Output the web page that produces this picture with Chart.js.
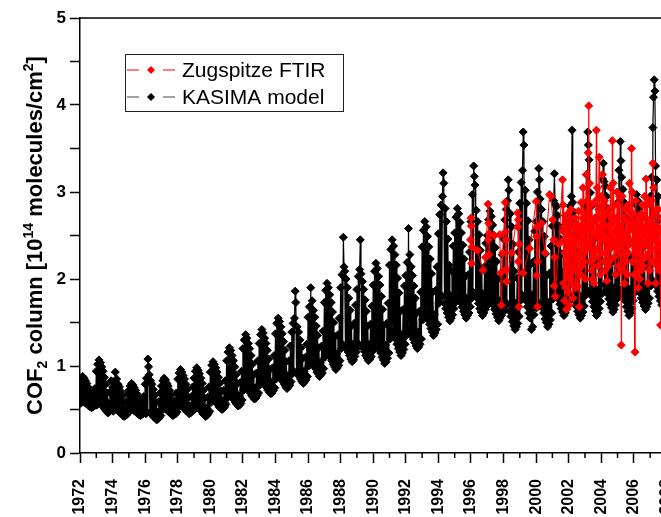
<!DOCTYPE html>
<html>
<head>
<meta charset="utf-8">
<script src="https://cdn.jsdelivr.net/npm/chart.js@4.4.1/dist/chart.umd.min.js"></script>
<style>
  html, body { margin: 0; padding: 0; overflow: hidden; background: #fff; }
  #wrap { width: 720px; height: 517px; }
</style>
</head>
<body>
<div id="wrap"><canvas id="cof2" width="720" height="517"></canvas></div>
<script>
// KASIMA model: 24 samples per year starting Jan 1972
const kasimaStart = 1972;
const kasimaPerYear = 24;
const kasimaValues = [
  0.80,0.57,0.85,0.59,0.88,0.59,0.86,0.58,0.83,0.57,0.80,0.56,0.76,0.54,0.71,0.53,0.66,0.52,0.59,0.53,0.66,0.54,0.74,0.56, // 1972
  0.94,0.55,1.02,0.57,1.07,0.58,1.04,0.56,0.99,0.55,0.94,0.52,0.87,0.50,0.79,0.48,0.69,0.46,0.57,0.47,0.70,0.49,0.83,0.52, // 1973
  0.76,0.48,0.82,0.50,0.93,0.51,0.85,0.49,0.79,0.48,0.76,0.46,0.71,0.45,0.65,0.43,0.58,0.42,0.50,0.43,0.59,0.44,0.68,0.46, // 1974
  0.72,0.48,0.77,0.50,0.80,0.50,0.78,0.49,0.75,0.48,0.72,0.47,0.68,0.45,0.63,0.44,0.57,0.43,0.50,0.44,0.58,0.45,0.65,0.47, // 1975
  0.79,0.45,0.86,0.47,1.08,0.99,0.90,0.46,0.83,0.45,0.79,0.43,0.73,0.41,0.66,0.40,0.58,0.38,0.47,0.39,0.59,0.41,0.69,0.43, // 1976
  0.77,0.49,0.83,0.51,0.86,0.52,0.84,0.50,0.80,0.49,0.77,0.47,0.72,0.46,0.66,0.44,0.59,0.43,0.51,0.44,0.60,0.45,0.69,0.47, // 1977
  0.85,0.52,0.92,0.54,0.96,0.55,0.93,0.53,0.89,0.52,0.85,0.50,0.79,0.48,0.73,0.47,0.64,0.45,0.54,0.46,0.65,0.48,0.76,0.50, // 1978
  0.86,0.50,0.94,0.52,0.98,0.53,0.95,0.51,0.91,0.50,0.86,0.48,0.80,0.45,0.72,0.44,0.63,0.42,0.52,0.43,0.64,0.45,0.76,0.48, // 1979
  0.93,0.58,1.01,0.60,1.05,0.61,1.02,0.59,0.98,0.58,0.93,0.56,0.87,0.53,0.80,0.52,0.71,0.50,0.60,0.51,0.72,0.53,0.83,0.56, // 1980
  1.06,0.63,1.16,0.66,1.21,0.67,1.18,0.65,1.12,0.63,1.06,0.61,0.99,0.58,0.90,0.56,0.80,0.54,0.66,0.55,0.81,0.57,0.94,0.61, // 1981
  1.20,0.72,1.30,0.75,1.36,0.77,1.32,0.74,1.26,0.72,1.20,0.69,1.12,0.66,1.02,0.64,0.90,0.62,0.75,0.63,0.92,0.66,1.06,0.69, // 1982
  1.26,0.78,1.36,0.81,1.42,0.83,1.38,0.80,1.32,0.78,1.26,0.75,1.18,0.72,1.08,0.70,0.96,0.68,0.81,0.69,0.98,0.72,1.12,0.75, // 1983
  1.37,0.85,1.49,0.89,1.55,0.90,1.51,0.87,1.45,0.85,1.37,0.82,1.28,0.79,1.18,0.76,1.05,0.74,0.89,0.76,1.06,0.78,1.23,0.82, // 1984
  1.39,0.91,1.49,0.94,1.55,1.86,1.73,0.92,1.45,0.91,1.39,0.88,1.30,0.85,1.21,0.82,1.09,0.80,0.94,0.82,1.10,0.84,1.25,0.88, // 1985
  1.56,1.00,1.68,1.04,1.90,1.05,1.75,1.02,1.64,1.00,1.56,0.97,1.46,0.93,1.35,0.91,1.21,0.88,1.04,0.90,1.23,0.92,1.40,0.97, // 1986
  1.73,1.10,1.87,1.14,1.95,1.16,1.90,1.12,1.82,1.10,1.73,1.06,1.62,1.02,1.50,0.99,1.34,0.96,1.14,0.98,1.36,1.01,1.55,1.06, // 1987
  1.90,1.20,2.05,1.25,2.48,2.14,2.09,1.22,2.00,1.20,1.90,1.16,1.78,1.12,1.64,1.08,1.46,1.05,1.25,1.07,1.49,1.11,1.70,1.16, // 1988
  1.88,1.21,2.03,1.25,2.11,2.45,2.06,1.23,1.97,1.21,1.88,1.17,1.76,1.12,1.63,1.09,1.46,1.06,1.25,1.08,1.48,1.11,1.69,1.17, // 1989
  1.93,1.19,2.09,1.24,2.18,1.26,2.12,1.21,2.03,1.19,1.93,1.15,1.80,1.10,1.65,1.07,1.47,1.03,1.24,1.05,1.49,1.09,1.72,1.15, // 1990
  2.16,1.31,2.34,1.36,2.45,1.39,2.38,1.33,2.28,1.31,2.16,1.25,2.01,1.20,1.84,1.16,1.63,1.12,1.36,1.15,1.65,1.19,1.92,1.25, // 1991
  2.04,1.35,2.19,1.39,2.58,1.42,2.28,1.37,2.14,1.35,2.04,1.31,1.92,1.27,1.78,1.23,1.61,1.20,1.39,1.22,1.63,1.25,1.85,1.31, // 1992
  2.37,1.53,2.56,1.59,2.66,1.61,2.60,1.56,2.49,1.53,2.37,1.48,2.23,1.43,2.06,1.39,1.85,1.35,1.59,1.38,1.87,1.42,2.14,1.48, // 1993
  2.52,1.72,2.74,1.78,2.85,1.81,2.95,3.22,3.10,1.72,2.81,1.66,2.66,1.61,2.46,1.56,2.16,1.52,1.81,1.55,2.09,1.59,2.38,1.66, // 1994
  2.53,1.73,2.71,1.78,2.81,1.80,2.75,1.75,2.65,1.73,2.53,1.68,2.39,1.63,2.23,1.59,2.03,1.55,1.78,1.58,2.05,1.61,2.31,1.68, // 1995
  2.66,1.78,2.97,1.85,3.30,3.18,3.08,1.80,2.79,1.78,2.66,1.72,2.51,1.66,2.33,1.62,2.11,1.58,1.83,1.61,2.14,1.65,2.41,1.72, // 1996
  2.50,1.70,2.68,1.75,2.78,1.77,2.72,1.72,2.62,1.70,2.50,1.65,2.36,1.60,2.20,1.56,2.00,1.52,1.75,1.55,2.02,1.58,2.28,1.65, // 1997
  2.46,1.63,2.68,1.69,2.80,1.72,2.90,3.14,3.02,1.63,2.75,1.57,2.60,1.51,2.40,1.46,2.09,1.42,1.72,1.45,2.01,1.49,2.31,1.57, // 1998
  2.87,1.75,3.11,1.82,3.25,3.69,3.54,1.78,3.02,1.75,2.87,1.68,2.67,1.61,2.45,1.55,2.17,1.42,1.82,1.45,2.20,1.59,2.55,1.68, // 1999
  2.66,1.67,3.00,1.73,3.27,3.14,2.92,1.70,2.80,1.67,2.66,1.61,2.49,1.54,2.29,1.50,2.04,1.45,1.73,1.48,2.07,1.53,2.38,1.61, // 2000
  2.61,1.77,2.90,3.21,2.86,1.84,2.83,1.79,2.73,1.77,2.61,1.71,2.46,1.66,2.29,1.62,2.08,1.58,1.82,1.61,2.11,1.65,2.37,1.71, // 2001
  2.64,1.75,2.84,1.80,2.95,3.71,2.88,1.77,2.77,1.75,2.64,1.69,2.49,1.63,2.31,1.59,2.08,1.55,1.80,1.58,2.11,1.62,2.39,1.69, // 2002
  2.84,1.81,3.20,1.87,3.69,3.54,3.37,1.84,2.99,1.81,2.84,1.74,2.67,1.68,2.46,1.63,2.20,1.58,1.87,1.61,2.23,1.66,2.55,1.74, // 2003
  2.81,1.83,3.15,3.33,3.12,1.93,3.07,1.87,2.95,1.83,2.81,1.77,2.65,1.71,2.45,1.67,2.20,1.62,1.90,1.65,2.23,1.70,2.54,1.77, // 2004
  2.88,1.81,3.25,1.88,3.58,3.36,3.17,1.85,3.03,1.81,2.88,1.75,2.70,1.68,2.48,1.63,2.22,1.58,1.88,1.61,2.25,1.66,2.58,1.75, // 2005
  2.68,1.84,2.86,1.89,2.97,1.91,2.90,1.86,2.80,1.84,2.68,1.78,2.53,1.73,2.36,1.69,2.15,1.65,1.89,1.68,2.18,1.72,2.44,1.78, // 2006
  2.95,1.92,3.17,1.99,3.74,4.09,4.29,4.16,3.30,1.92,3.14,1.86,2.95,1.80,2.69,1.75,2.37,1.70,1.99,1.73,2.34,1.78,2.66,1.86, // 2007
  2.95,1.90,3.15,1.95,3.25,1.98,3.15,1.90                                                                                   // 2008
];

// Zugspitze FTIR measurements: decimal year and column
const ftirYears = [
  1995.97,1996.00,1996.02,1996.04,1996.06,1996.40,1996.74,1996.90,
  1997.05,1997.07,1997.09,1997.11,1997.13,1997.45,1997.77,1997.82,1997.87,1997.95,
  1998.10,1998.12,1998.14,1998.16,1998.19,1998.50,1998.86,1998.88,1998.90,1998.92,1998.94,1998.97,
  1999.20,1999.60,2000.00,2000.02,2000.04,2000.06,2000.08,2000.10,2000.32,2000.55,2000.83,2000.92,
  2001.02,2001.08,2001.11,2001.14,2001.17,2001.40,
  2001.62,2001.64,2001.66,2001.68,2001.70,2001.72,2001.74,2001.76,2001.78,2001.80,2001.82,2001.84,
  2001.86,2001.88,2001.90,2001.92,2001.94,2001.96,2001.98,2002.00,2002.03,2002.05,2002.08,2002.11,
  2002.14,2002.17,2002.20,2002.23,2002.26,2002.29,2002.32,2002.36,2002.40,2002.44,2002.48,2002.52,
  2002.55,2002.58,2002.60,2002.63,2002.65,2002.68,2002.70,2002.73,2002.76,2002.79,2002.82,2002.85,
  2002.88,2002.91,2002.94,2002.97,2003.00,2003.03,2003.06,2003.09,2003.12,2003.15,2003.18,2003.20,
  2003.23,2003.25,2003.28,2003.31,2003.34,2003.37,2003.40,2003.43,2003.46,2003.49,2003.52,2003.55,
  2003.58,2003.61,2003.64,2003.67,2003.70,2003.72,2003.75,2003.78,2003.81,2003.84,2003.87,2003.90,
  2003.93,2003.96,2003.99,2004.02,2004.05,2004.08,2004.11,2004.14,2004.17,2004.20,2004.23,2004.26,
  2004.29,2004.32,2004.35,2004.38,2004.41,2004.44,2004.47,2004.50,2004.53,2004.56,2004.59,2004.62,
  2004.65,2004.68,2004.70,2004.73,2004.76,2004.79,2004.82,2004.85,2004.88,2004.91,2004.94,2004.97,
  2005.00,2005.03,2005.06,2005.09,2005.12,2005.15,2005.18,2005.21,2005.23,2005.25,2005.28,2005.31,
  2005.34,2005.37,2005.40,2005.43,2005.46,2005.49,2005.52,2005.55,2005.58,2005.61,2005.64,2005.67,
  2005.70,2005.73,2005.76,2005.79,2005.82,2005.85,2005.87,2005.90,2005.93,2005.96,2005.99,2006.02,
  2006.05,2006.07,2006.09,2006.12,2006.15,2006.18,2006.21,2006.24,2006.27,2006.30,2006.33,2006.36,
  2006.39,2006.42,2006.45,2006.48,2006.51,2006.54,2006.57,2006.60,2006.63,2006.66,2006.69,2006.72,
  2006.75,2006.78,2006.81,2006.84,2006.87,2006.90,2006.93,2006.96,2006.99,2007.02,2007.05,2007.08,
  2007.11,2007.14,2007.17,2007.19,2007.22,2007.25,2007.28,2007.31,2007.34,2007.37,2007.40,2007.43,
  2007.46,2007.49,2007.52,2007.55,2007.58,2007.61,2007.64,2007.66,2007.69
];
const ftirValues = [
  2.45,2.70,2.61,2.18,2.37,2.33,2.10,2.25,
  2.86,2.45,2.64,2.28,2.52,2.50,2.51,2.07,1.70,2.30,
  2.88,2.54,2.11,2.45,1.97,2.30,2.76,2.60,2.20,2.68,1.68,2.40,
  2.07,2.35,2.89,2.49,2.04,2.60,1.68,2.20,2.64,2.30,2.97,2.95,
  2.68,2.45,1.92,2.25,1.80,2.40,
  3.14,2.55,2.85,1.95,2.45,2.60,1.75,2.30,2.45,1.90,2.65,2.70,
  1.65,2.20,2.30,2.05,2.75,2.55,1.85,2.35,2.40,1.70,2.65,2.00,
  2.80,2.50,1.95,2.45,1.78,2.60,2.35,2.10,2.70,1.90,2.62,2.25,
  1.92,2.55,2.78,2.10,1.68,2.45,2.60,2.05,2.88,2.30,2.15,2.70,
  3.05,2.20,2.55,2.30,2.75,2.00,2.60,3.20,2.35,2.90,2.40,3.45,
  3.99,2.60,3.10,2.20,2.70,2.85,2.10,2.55,2.00,2.65,2.30,1.95,
  2.50,2.70,2.25,2.90,3.71,2.50,3.05,2.35,2.15,2.80,3.40,2.70,
  2.05,2.60,2.95,2.30,2.55,3.20,2.45,2.85,2.20,2.90,2.10,2.60,
  2.75,2.30,1.98,2.45,2.60,2.15,2.80,2.20,2.50,3.05,2.35,2.70,
  2.40,3.59,2.65,3.10,2.40,2.25,2.85,2.55,2.05,2.70,2.35,3.00,
  2.45,2.85,2.15,2.60,2.95,2.30,2.60,2.10,1.24,2.40,2.95,2.55,
  2.10,2.70,2.30,1.95,2.50,2.80,2.20,2.45,2.65,2.05,2.85,2.30,
  2.55,3.10,2.40,2.75,2.60,3.50,2.60,3.00,2.20,2.75,2.45,2.05,
  2.60,1.16,2.35,2.90,2.50,2.05,2.65,2.30,1.90,2.45,2.70,2.00,
  2.55,2.20,2.75,2.10,2.50,2.85,2.15,2.60,2.40,2.95,2.25,2.70,
  3.15,2.40,2.85,2.55,1.95,2.60,2.30,2.90,2.10,2.65,2.35,2.90,
  2.50,2.20,3.33,2.55,3.05,2.20,2.75,2.45,1.95,2.50,2.80,2.15,
  2.60,2.35,2.80,2.10,2.55,2.25,1.47,2.40,2.70
];

const xTickYears = [1972,1974,1976,1978,1980,1982,1984,1986,1988,1990,1992,1994,1996,1998,2000,2002,2004,2006,2008,2010];
const yTickValues = [0,0.5,1,1.5,2,2.5,3,3.5,4,4.5,5];

const FONT = "'Liberation Sans', Arial, Helvetica, sans-serif";

const kasimaPoints = kasimaValues.map((v, i) => ({ x: kasimaStart + i / kasimaPerYear, y: v }));
const ftirPoints = ftirYears.map((t, i) => ({ x: t, y: ftirValues[i] }));

// frame, minor ticks, legend and rich y-axis title
const decorations = {
  id: 'decorations',
  afterDraw(chart) {
    const { ctx, chartArea: a, scales: { x } } = chart;
    ctx.save();
    ctx.strokeStyle = '#000';
    ctx.lineWidth = 1.5;
    ctx.beginPath();
    ctx.moveTo(a.left, a.top);
    ctx.lineTo(a.right, a.top);
    ctx.lineTo(a.right, a.bottom);
    ctx.stroke();

    ctx.beginPath();
    xTickYears.forEach(v => {
      const px = x.getPixelForValue(v + 1);
      if (px < a.right) {
        ctx.moveTo(px, a.bottom);
        ctx.lineTo(px, a.bottom + 5);
      }
    });
    ctx.stroke();

    // legend
    ctx.lineWidth = 1;
    ctx.strokeStyle = '#222';
    ctx.strokeRect(125.5, 54.5, 218, 57);
    const rows = [70, 97];
    chart.data.datasets.forEach((ds, i) => {
      const yy = rows[i];
      ctx.strokeStyle = ds.legendLine;
      ctx.lineWidth = 1;
      ctx.beginPath();
      ctx.moveTo(127, yy); ctx.lineTo(139, yy);
      ctx.moveTo(163, yy); ctx.lineTo(175, yy);
      ctx.stroke();
      ctx.fillStyle = ds.backgroundColor;
      ctx.beginPath();
      ctx.moveTo(151 - 4, yy); ctx.lineTo(151, yy - 4); ctx.lineTo(151 + 4, yy); ctx.lineTo(151, yy + 4);
      ctx.closePath();
      ctx.fill();
      ctx.fillStyle = '#000';
      ctx.font = '21px ' + FONT;
      ctx.textBaseline = 'middle';
      ctx.textAlign = 'left';
      ctx.fillText(ds.label, 182, yy + 1);
    });

    // y title with subscript / superscripts
    const parts = [
      ['COF', 22, 0], ['2', 14, 5], [' column [10', 22, 0], ['14', 14, -9],
      [' molecules/cm', 22, 0], ['2', 14, -9], [']', 22, 0]
    ];
    let total = 0;
    parts.forEach(p => { ctx.font = 'bold ' + p[1] + 'px ' + FONT; total += ctx.measureText(p[0]).width; });
    ctx.translate(42, (a.top + a.bottom) / 2);
    ctx.rotate(-Math.PI / 2);
    ctx.fillStyle = '#000';
    ctx.textBaseline = 'alphabetic';
    let cx = -total / 2;
    parts.forEach(p => {
      ctx.font = 'bold ' + p[1] + 'px ' + FONT;
      ctx.fillText(p[0], cx, p[2]);
      cx += ctx.measureText(p[0]).width;
    });
    ctx.restore();
  }
};

new Chart(document.getElementById('cof2'), {
  type: 'line',
  data: {
    datasets: [
      {
        label: 'Zugspitze FTIR',
        data: ftirPoints,
        borderColor: '#ff0000',
        backgroundColor: '#ff0000',
        legendLine: '#ff0000',
        borderWidth: 1,
        pointStyle: 'rectRot',
        pointRadius: 4,
        pointBorderWidth: 1,
        tension: 0
      },
      {
        label: 'KASIMA model',
        data: kasimaPoints,
        borderColor: '#000000',
        backgroundColor: '#000000',
        legendLine: '#444444',
        borderWidth: 1.2,
        pointStyle: 'rectRot',
        pointRadius: 4,
        pointBorderWidth: 1,
        tension: 0
      }
    ]
  },
  options: {
    responsive: false,
    animation: false,
    events: [],
    layout: { padding: { left: 0, right: 21, top: 18, bottom: 0 } },
    plugins: { legend: { display: false }, tooltip: { enabled: false } },
    scales: {
      x: {
        type: 'linear',
        min: 1972,
        max: 2010,
        afterBuildTicks: s => { s.ticks = xTickYears.map(v => ({ value: v })); },
        afterFit: s => { s.height = 64; s.paddingLeft = 0; s.paddingRight = 0; },
        ticks: {
          autoSkip: false,
          maxRotation: 90,
          minRotation: 90,
          padding: 16,
          color: '#000',
          font: { family: FONT, size: 16, weight: 'bold' },
          callback: v => String(v)
        },
        grid: { drawOnChartArea: false, drawTicks: true, tickLength: 10, tickColor: '#000', tickWidth: 1.5 },
        border: { display: true, color: '#000', width: 1.5 }
      },
      y: {
        min: 0,
        max: 5,
        afterBuildTicks: s => { s.ticks = yTickValues.map(v => ({ value: v })); },
        afterFit: s => { s.width = 80; s.paddingTop = 0; s.paddingBottom = 0; },
        ticks: {
          padding: 4,
          color: '#000',
          font: { family: FONT, size: 17, weight: 'bold' },
          callback: v => Number.isInteger(v) ? String(v) : ''
        },
        grid: { drawOnChartArea: false, drawTicks: true, tickLength: 10, tickColor: '#000', tickWidth: 1.5 },
        border: { display: true, color: '#000', width: 1.5 }
      }
    }
  },
  plugins: [decorations]
});
</script>
</body>
</html>
